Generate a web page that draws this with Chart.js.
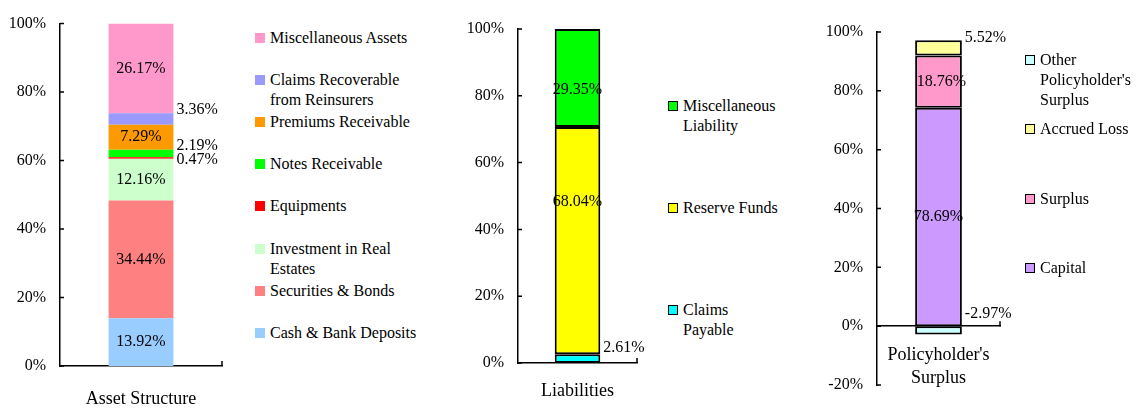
<!DOCTYPE html>
<html>
<head>
<meta charset="utf-8">
<script src="https://cdn.jsdelivr.net/npm/chart.js@4"></script>
<style>
  html, body { margin: 0; padding: 0; background: #fff; }
  body { width: 1136px; height: 409px; position: relative; overflow: hidden; font-family: "Liberation Serif", serif; color: #000; }
  .box { position: absolute; top: 0; height: 409px; }
  .legend { position: absolute; font-size: 16px; line-height: 20px; }
  .legend .item { position: absolute; left: 0; padding-left: 15px; }
  .legend .sw { position: absolute; left: 0; top: 5px; width: 10px; height: 10px; box-sizing: border-box; }
</style>
</head>
<body>
<div class="box" style="left:0;width:240px"><canvas id="assets"></canvas></div>
<div class="box" style="left:440px;width:220px"><canvas id="liabilities"></canvas></div>
<div class="box" style="left:790px;width:240px"><canvas id="surplus"></canvas></div>
<div class="legend" id="assetsLegend" style="left:255px;top:28px"></div>
<div class="legend" id="liabilitiesLegend" style="left:668px;top:96px"></div>
<div class="legend" id="surplusLegend" style="left:1025px;top:50px"></div>

<script>
// stacks are listed bottom to top
const assetCategory = ["Asset Structure"];
const assetNames = [
  "Cash & Bank Deposits",
  "Securities & Bonds",
  "Investment in Real Estates",
  "Equipments",
  "Notes Receivable",
  "Premiums Receivable",
  "Claims Recoverable from Reinsurers",
  "Miscellaneous Assets",
];
const assetValues = [13.92, 34.44, 12.16, 0.47, 2.19, 7.29, 3.36, 26.17];

const liabilityCategory = ["Liabilities"];
const liabilityNames = ["Claims Payable", "Reserve Funds", "Miscellaneous Liability"];
const liabilityValues = [2.61, 68.04, 29.35];

const surplusCategory = [["Policyholder's", "Surplus"]];
const surplusNames = ["Capital", "Surplus", "Accrued Loss", "Other Policyholder's Surplus"];
const surplusValues = [78.69, 18.76, 5.52, -2.97];

const percentTicks = [0, 20, 40, 60, 80, 100];
const surplusTicks = [-20, 0, 20, 40, 60, 80, 100];

Chart.defaults.font.family = "Liberation Serif";
Chart.defaults.color = "#000";
Chart.defaults.animation = false;

// value text on or beside each segment
const valueLabels = {
  id: "valueLabels",
  afterDatasetsDraw(chart) {
    const ctx = chart.ctx;
    ctx.save();
    ctx.font = '16px "Liberation Serif"';
    ctx.fillStyle = "#000";
    ctx.textBaseline = "middle";
    chart.data.datasets.forEach((ds, i) => {
      const bar = chart.getDatasetMeta(i).data[0];
      const place = ds.valueLabel || {};
      const text = ds.raw.toFixed(2) + "%";
      const top = Math.min(bar.y, bar.base);
      const bottom = Math.max(bar.y, bar.base);
      const y = bottom - (bottom - top) * (place.at ?? 0.5) + (place.dy || 0);
      if (place.side === "right") {
        ctx.textAlign = "left";
        ctx.fillText(text, bar.x + bar.width / 2 + 3, y);
      } else {
        ctx.textAlign = "center";
        ctx.fillText(text, bar.x + (place.dx || 0), y);
      }
    });
    ctx.restore();
  },
};

// short inward tick marks on the value axis, one at the end of the category axis
const axisTicks = {
  id: "axisTicks",
  afterDraw(chart) {
    const { ctx, chartArea, scales } = chart;
    const y = scales.y;
    ctx.save();
    ctx.strokeStyle = "#000";
    ctx.lineWidth = 1.5;
    ctx.beginPath();
    y.ticks.forEach((t) => {
      const py = y.getPixelForValue(t.value);
      ctx.moveTo(chartArea.left, py);
      ctx.lineTo(chartArea.left + 4, py);
    });
    const zero = y.getPixelForValue(0);
    ctx.moveTo(chartArea.right, zero);
    ctx.lineTo(chartArea.right, zero - 5);
    ctx.stroke();
    ctx.restore();
  },
};

function makeChart(id, cfg) {
  // shares of the summed absolute values, as a 100% stacked column
  const total = cfg.values.reduce((s, v) => s + Math.abs(v), 0);
  const datasets = cfg.values.map((v, i) => ({
    label: cfg.names[i],
    data: [(v / total) * 100],
    raw: v,
    backgroundColor: cfg.colors[i],
    borderColor: "#000",
    borderWidth: cfg.border,
    borderSkipped: false,
    barPercentage: 1,
    categoryPercentage: cfg.barFrac,
    valueLabel: cfg.places[i],
  }));

  const ticks = cfg.ticks;
  return new Chart(document.getElementById(id), {
    type: "bar",
    data: { labels: cfg.category, datasets },
    options: {
      responsive: true,
      maintainAspectRatio: false,
      layout: { padding: cfg.padding },
      plugins: { legend: { display: false }, tooltip: { enabled: false } },
      scales: {
        x: {
          stacked: true,
          position: cfg.xAtZero ? { y: 0 } : "bottom",
          grid: { display: false, drawTicks: false },
          border: { display: true, color: "#000", width: 1.5 },
          ticks: { padding: cfg.catPad, font: { size: 18, lineHeight: 1.28 } },
          afterFit: (s) => { s.height = cfg.xHeight; },
        },
        y: {
          stacked: true,
          min: ticks[0],
          max: ticks[ticks.length - 1],
          grid: { display: false, drawTicks: false },
          border: { display: true, color: "#000", width: 1.5 },
          ticks: {
            stepSize: ticks[1] - ticks[0],
            padding: 14,
            font: { size: 16 },
            callback: (v) => v + "%",
          },
          afterFit: (s) => { s.width = cfg.axisWidth; },
        },
      },
    },
    plugins: [valueLabels, axisTicks],
  });
}

function buildLegend(id, names, colors, opts) {
  const el = document.getElementById(id);
  const order = names.map((n, i) => i).reverse();
  order.forEach((idx, row) => {
    const item = document.createElement("div");
    item.className = "item";
    item.style.top = row * opts.rowHeight + "px";
    item.style.width = opts.textWidth + "px";
    const sw = document.createElement("span");
    sw.className = "sw";
    sw.style.background = colors[idx];
    if (opts.outlined) sw.style.border = "1px solid #000";
    item.appendChild(sw);
    item.appendChild(document.createTextNode(names[idx]));
    el.appendChild(item);
  });
}

const assetColors = ["#99ccff", "#ff8080", "#ccffcc", "#ff0000", "#00ff00", "#ff9900", "#9999ff", "#ff99cc"];
const liabilityColors = ["#00ffff", "#ffff00", "#00ff00"];
const surplusColors = ["#cc99ff", "#ff99cc", "#ffff99", "#ccffff"];

makeChart("assets", {
  category: assetCategory,
  names: assetNames,
  values: assetValues,
  colors: assetColors,
  ticks: percentTicks,
  border: 0,
  barFrac: 0.4,
  padding: { top: 21, right: 18, left: 0, bottom: 0 },
  axisWidth: 60,
  xHeight: 43,
  catPad: 22,
  places: [{}, {}, {}, { side: "right", dy: 2 }, { side: "right", dy: -8 }, {}, { side: "right", dy: -9 }, {}],
});

makeChart("liabilities", {
  category: liabilityCategory,
  names: liabilityNames,
  values: liabilityValues,
  colors: liabilityColors,
  ticks: percentTicks,
  border: 2,
  barFrac: 0.383,
  padding: { top: 29, right: 23, left: 0, bottom: 0 },
  axisWidth: 78,
  xHeight: 46,
  catPad: 17,
  places: [{ side: "right", dy: -11 }, { at: 0.67 }, { at: 0.38 }],
});

makeChart("surplus", {
  category: surplusCategory,
  names: surplusNames,
  values: surplusValues,
  colors: surplusColors,
  ticks: surplusTicks,
  border: 2,
  barFrac: 0.38,
  padding: { top: 32, right: 30, left: 0, bottom: 24 },
  axisWidth: 87,
  xHeight: 0,
  xAtZero: true,
  catPad: 18,
  places: [{}, { dx: 3 }, { side: "right", dy: -10 }, { side: "right", dy: -16 }],
});

buildLegend("assetsLegend", assetNames, assetColors, { rowHeight: 42.1, textWidth: 155, outlined: false });
buildLegend("liabilitiesLegend", liabilityNames, liabilityColors, { rowHeight: 102, textWidth: 97, outlined: true });
buildLegend("surplusLegend", surplusNames, surplusColors, { rowHeight: 69.4, textWidth: 100, outlined: true });
</script>
</body>
</html>
